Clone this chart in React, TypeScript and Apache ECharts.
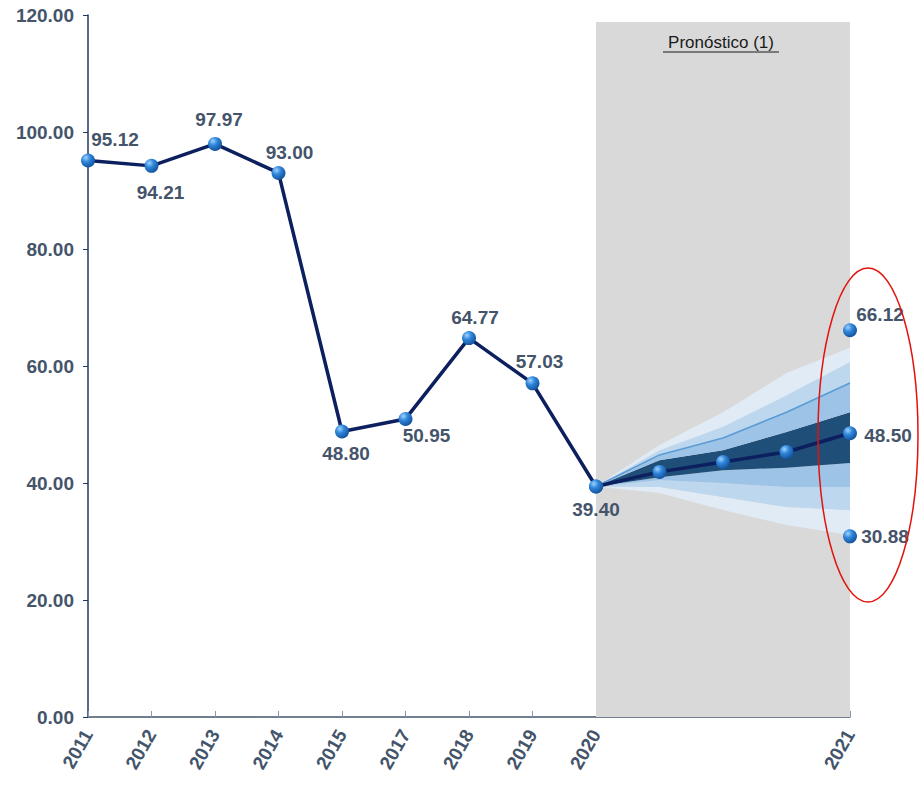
import React, { useEffect, useRef } from "react";
import * as echarts from "echarts";

const categories = ["2011", "2012", "2013", "2014", "2015", "2017", "2018", "2019", "2020", "", "", "", "2021"];
const historical = [95.12, 94.21, 97.97, 93.0, 48.8, 50.95, 64.77, 57.03, 39.4];
const forecastCentral = [39.4, 41.9, 43.6, 45.3, 48.5];
const outlierHigh = 66.12;
const outlierLow = 30.88;
const yTicks = { min: 0, max: 120, interval: 20 };

// fan band boundaries (2020 .. 2021)
const lower3 = [39.4, 38.3, 35.4, 32.8, 31.1];
const lower2 = [39.4, 39.3, 37.6, 35.9, 35.4];
const lower1 = [39.4, 40.5, 40.0, 39.3, 39.3];
const lower0 = [39.4, 41.0, 42.2, 42.6, 43.4];
const upper0 = [39.4, 43.9, 45.6, 48.7, 52.1];
const upper1 = [39.4, 44.8, 47.7, 52.1, 57.1];
const upper2 = [39.4, 45.6, 49.6, 55.0, 60.7];
const upper3 = [39.4, 46.5, 52.1, 58.8, 63.1];

// label offsets (pixels) relative to each historical point
const histLabelOffsets: [number, number][] = [
  [27, -21], [9, 27], [4, -24], [11, -20], [4, 22], [21, 17], [6, -21], [7, -22], [0, 23],
];

const LABEL_COLOR = "#44546a";
const FONT = "'Liberation Sans', Arial, sans-serif";

export default function App() {
  const ref = useRef<HTMLDivElement>(null);
  useEffect(() => {
    if (!ref.current) return;
    const chart = echarts.init(ref.current, null, { renderer: "svg" });
    const nHist = historical.length;
    const startIdx = nHist - 1;
    const pad = (arr: number[], start: number) => {
      const out: (number | string)[] = categories.map(() => "-");
      arr.forEach((v, i) => (out[start + i] = v));
      return out;
    };
    const diff = (a: number[], b: number[]) => a.map((v, i) => +(v - b[i]).toFixed(3));

    const sphere = new echarts.graphic.RadialGradient(0.35, 0.3, 0.7, [
      { offset: 0, color: "#9fd2ff" },
      { offset: 0.45, color: "#2f86da" },
      { offset: 1, color: "#1555a0" },
    ]);

    const labelBase = {
      show: true,
      position: "inside" as const,
      color: LABEL_COLOR,
      fontFamily: FONT,
      fontWeight: "bold" as const,
      fontSize: 19,
      opacity: 1,
    };

    const histData = categories.map((_, i) => {
      if (i >= nHist) return "-";
      return {
        value: historical[i],
        label: { ...labelBase, offset: histLabelOffsets[i], formatter: historical[i].toFixed(2) },
      };
    });

    const fcData = categories.map((_, i) => {
      if (i < startIdx) return "-";
      const v = forecastCentral[i - startIdx];
      const isLast = i === categories.length - 1;
      return {
        value: v,
        label: isLast
          ? { ...labelBase, offset: [38, 2], formatter: v.toFixed(2) }
          : { show: false },
      };
    });

    const bandSeries = (name: string, data: number[], color: string | null, line?: any) => ({
      name,
      type: "line",
      stack: "fan",
      data: pad(data, startIdx),
      symbol: "none",
      z: 3,
      lineStyle: line || { width: 0, opacity: 0 },
      areaStyle: color ? { color, opacity: 1 } : undefined,
      silent: true,
    });

    const option: any = {
      animation: false,
      grid: { left: 88, right: 70, top: 15, bottom: 70 },
      xAxis: {
        type: "category",
        data: categories,
        boundaryGap: false,
        axisLine: { lineStyle: { color: "#44546a", width: 1.5 } },
        axisTick: { inside: true, length: 6, alignWithLabel: true, lineStyle: { color: "#8496b0" }, interval: 0 },
        axisLabel: {
          interval: 0,
          rotate: 60,
          margin: 14,
          color: LABEL_COLOR,
          fontFamily: FONT,
          fontWeight: "bold",
          fontSize: 19,
        },
      },
      yAxis: {
        type: "value",
        min: yTicks.min,
        max: yTicks.max,
        interval: yTicks.interval,
        splitLine: { show: false },
        axisLine: { show: true, lineStyle: { color: "#1f3864", width: 1.5 } },
        axisTick: { show: true, length: 5, lineStyle: { color: "#1f3864" } },
        axisLabel: {
          formatter: (v: number) => v.toFixed(2),
          margin: 14,
          color: LABEL_COLOR,
          fontFamily: FONT,
          fontWeight: "bold",
          fontSize: 19,
        },
      },
      series: [
        {
          ...bandSeries("base", lower3, null),
          markArea: {
            silent: true,
            itemStyle: { color: "#d9d9d9" },
            data: [[{ xAxis: "2020", yAxis: 0 }, { xAxis: "2021", yAxis: 118.8 }]],
          },
        },
        bandSeries("l3", diff(lower2, lower3), "#e1ebf6"),
        bandSeries("l2", diff(lower1, lower2), "#bdd7ee"),
        bandSeries("l1", diff(lower0, lower1), "#9dc3e6"),
        bandSeries("c", diff(upper0, lower0), "#1f4e79"),
        bandSeries("u1", diff(upper1, upper0), "#9dc3e6", { width: 1.5, color: "#5b9bd5" }),
        bandSeries("u2", diff(upper2, upper1), "#bdd7ee"),
        bandSeries("u3", diff(upper3, upper2), "#e1ebf6"),
        {
          name: "forecast",
          type: "line",
          data: fcData,
          z: 5,
          symbol: "circle",
          symbolSize: 14,
          showAllSymbol: true,
          lineStyle: { color: "#0c1f5e", width: 3.5 },
          itemStyle: { color: sphere },
        },
        {
          name: "historical",
          type: "line",
          data: histData,
          z: 6,
          symbol: "circle",
          symbolSize: 14,
          showAllSymbol: true,
          lineStyle: { color: "#0c1f5e", width: 3.5 },
          itemStyle: { color: sphere },
        },
        {
          name: "range",
          type: "scatter",
          z: 6,
          symbolSize: 14,
          itemStyle: { color: sphere, opacity: 1 },
          data: [
            { value: ["2021", outlierHigh], label: { ...labelBase, offset: [30, -16], formatter: outlierHigh.toFixed(2) } },
            { value: ["2021", outlierLow], label: { ...labelBase, offset: [35, 0], formatter: outlierLow.toFixed(2) } },
          ],
        },
      ],
      graphic: [
        {
          type: "text",
          x: 721,
          y: 42,
          z: 10,
          style: {
            text: "Pronóstico (1)",
            fill: "#1a1a1a",
            font: `17px ${FONT}`,
            align: "center",
            verticalAlign: "middle",
          },
        },
        {
          type: "line",
          z: 10,
          shape: { x1: 663, y1: 52, x2: 779, y2: 52 },
          style: { stroke: "#1a1a1a", lineWidth: 1.2 },
        },
        {
          type: "ellipse",
          z: 10,
          shape: { cx: 868, cy: 435, rx: 50, ry: 167 },
          style: { fill: "none", stroke: "#e3120b", lineWidth: 1.5 },
        },
      ],
    };
    chart.setOption(option);
    return () => chart.dispose();
  }, []);
  return (
    <div
      ref={ref}
      style={{ position: "fixed", left: 0, top: 0, width: 920, height: 787, background: "#ffffff" }}
    />
  );
}
